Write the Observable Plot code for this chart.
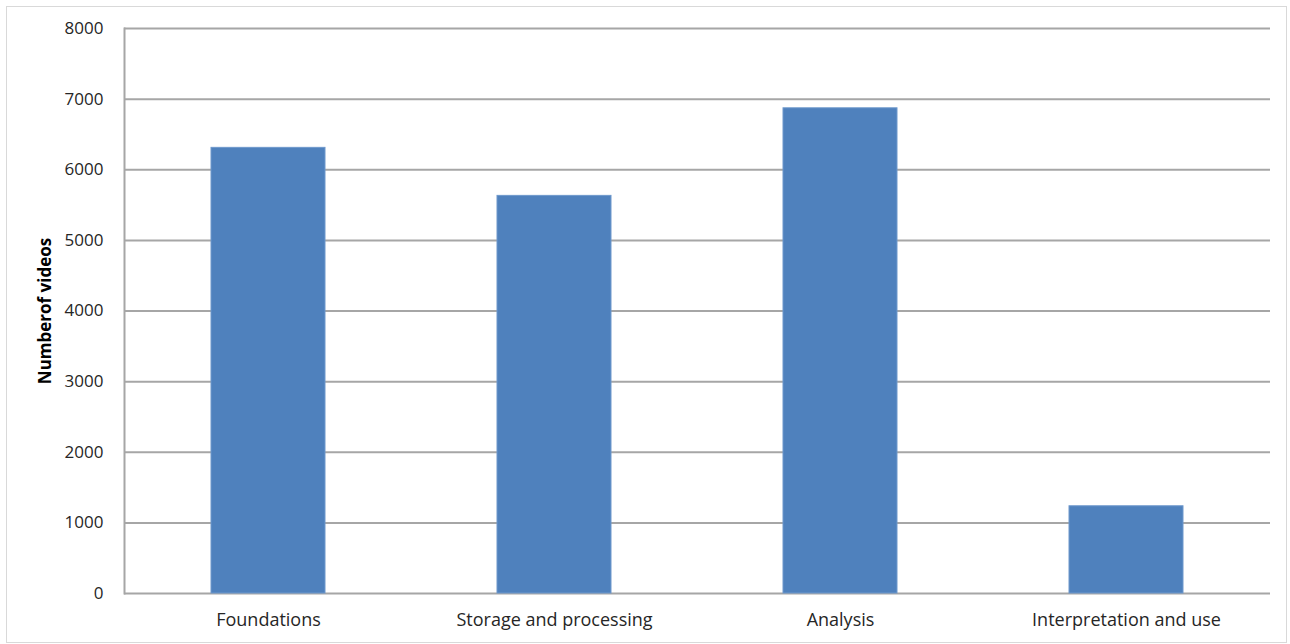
<!DOCTYPE html>
<html>
<head>
<meta charset="utf-8">
<script src="https://cdn.jsdelivr.net/npm/d3@7"></script>
<script src="https://cdn.jsdelivr.net/npm/@observablehq/plot@0.6"></script>
<style>
  html, body { margin: 0; padding: 0; background: #fff; }
  #wrap { position: relative; width: 1290px; height: 644px; }
  #border { position: absolute; left: 6px; top: 6px; width: 1279px; height: 635px; border: 1px solid #d9d9d9; pointer-events: none; }
</style>
</head>
<body>
<div id="wrap"><div id="border"></div><div id="chart"></div></div>
<script>
const categories = ["Foundations", "Storage and processing", "Analysis", "Interpretation and use"];
const videos = [6310, 5630, 6870, 1235];
const yTicks = [0, 1000, 2000, 3000, 4000, 5000, 6000, 7000, 8000];
const yLabel = "Numberof videos";

const data = categories.map((c, i) => ({category: c, videos: videos[i]}));

const chart = Plot.plot({
  width: 1290,
  height: 644,
  marginLeft: 124,
  marginRight: 20,
  marginTop: 28,
  marginBottom: 51,
  style: {fontFamily: "'Open Sans', sans-serif", color: "#262626", background: "transparent"},
  x: {domain: categories, paddingInner: 0.6, paddingOuter: 0.3, label: null},
  y: {domain: [0, 8000], label: null},
  marks: [
    Plot.gridY(yTicks, {stroke: "#a6a6a6", strokeOpacity: 1, strokeWidth: 2}),
    Plot.frame({anchor: "left", stroke: "#a6a6a6", strokeWidth: 2}),
    Plot.barY(data, {x: "category", y: "videos", fill: "#4f81bd", stroke: "#6e98cc", strokeWidth: 1}),
    Plot.axisY(yTicks, {tickSize: 0, tickPadding: 21, fontSize: 17, label: null, fill: "#262626", tickFormat: d => String(d)}),
    Plot.axisX({tickSize: 0, tickPadding: 20, fontSize: 18, label: null, fill: "#262626"}),
    Plot.text([yLabel], {frameAnchor: "left", dx: -79, rotate: -90, textAnchor: "middle", fontSize: 17, fontWeight: "bold", fill: "#000", text: d => d})
  ]
});
document.getElementById("chart").appendChild(chart);
</script>
</body>
</html>
